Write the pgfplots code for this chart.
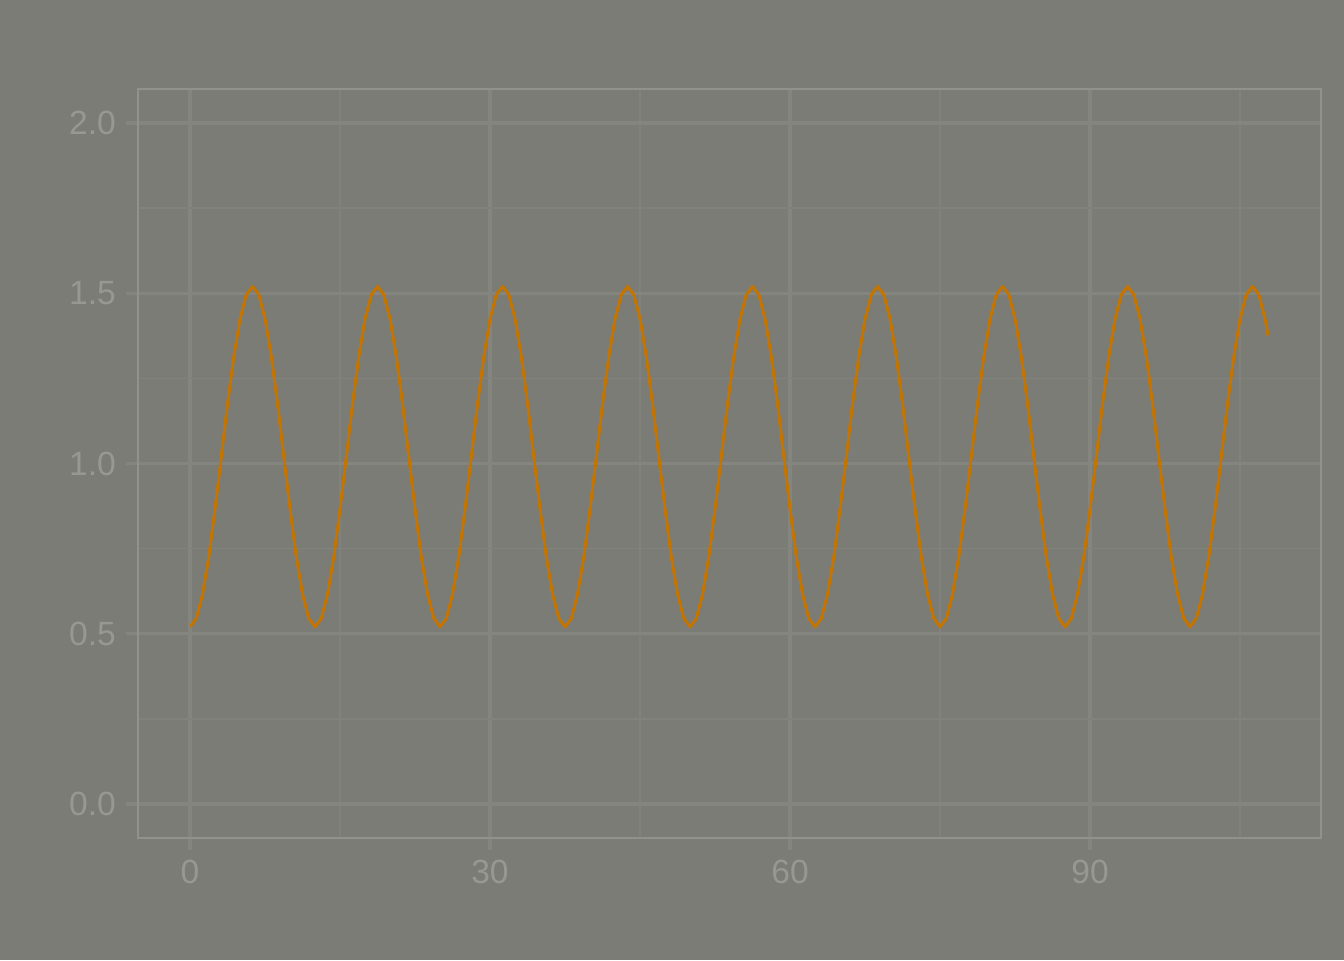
\documentclass[border=0pt]{standalone}
\usepackage{fontspec}
\setmainfont{Liberation Sans}
\usepackage{pgfplots}
\pgfplotsset{compat=1.18}
\definecolor{bgc}{RGB}{124,124,118}
\definecolor{gridmaj}{RGB}{133,133,128}
\definecolor{gridmin}{RGB}{130,130,125}
\definecolor{framec}{RGB}{146,146,141}
\definecolor{txtc}{RGB}{152,152,147}
\definecolor{wave}{RGB}{196,116,0}

\pgfplotstableread{
x y
0 0.520
0.625 0.545
1.25 0.616
1.875 0.726
2.5 0.866
3.125 1.020
3.75 1.175
4.375 1.314
5 1.425
5.625 1.496
6.25 1.520
6.875 1.496
7.5 1.425
8.125 1.314
8.75 1.175
9.375 1.020
10 0.866
10.625 0.726
11.25 0.616
11.875 0.545
12.5 0.520
13.125 0.545
13.75 0.616
14.375 0.726
15 0.866
15.625 1.020
16.25 1.175
16.875 1.314
17.5 1.425
18.125 1.496
18.75 1.520
19.375 1.496
20 1.425
20.625 1.314
21.25 1.175
21.875 1.020
22.5 0.866
23.125 0.726
23.75 0.616
24.375 0.545
25 0.520
25.625 0.545
26.25 0.616
26.875 0.726
27.5 0.866
28.125 1.020
28.75 1.175
29.375 1.314
30 1.425
30.625 1.496
31.25 1.520
31.875 1.496
32.5 1.425
33.125 1.314
33.75 1.175
34.375 1.020
35 0.866
35.625 0.726
36.25 0.616
36.875 0.545
37.5 0.520
38.125 0.545
38.75 0.616
39.375 0.726
40 0.866
40.625 1.020
41.25 1.175
41.875 1.314
42.5 1.425
43.125 1.496
43.75 1.520
44.375 1.496
45 1.425
45.625 1.314
46.25 1.175
46.875 1.020
47.5 0.866
48.125 0.726
48.75 0.616
49.375 0.545
50 0.520
50.625 0.545
51.25 0.616
51.875 0.726
52.5 0.866
53.125 1.020
53.75 1.175
54.375 1.314
55 1.425
55.625 1.496
56.25 1.520
56.875 1.496
57.5 1.425
58.125 1.314
58.75 1.175
59.375 1.020
60 0.866
60.625 0.726
61.25 0.616
61.875 0.545
62.5 0.520
63.125 0.545
63.75 0.616
64.375 0.726
65 0.866
65.625 1.020
66.25 1.175
66.875 1.314
67.5 1.425
68.125 1.496
68.75 1.520
69.375 1.496
70 1.425
70.625 1.314
71.25 1.175
71.875 1.020
72.5 0.866
73.125 0.726
73.75 0.616
74.375 0.545
75 0.520
75.625 0.545
76.25 0.616
76.875 0.726
77.5 0.866
78.125 1.020
78.75 1.175
79.375 1.314
80 1.425
80.625 1.496
81.25 1.520
81.875 1.496
82.5 1.425
83.125 1.314
83.75 1.175
84.375 1.020
85 0.866
85.625 0.726
86.25 0.616
86.875 0.545
87.5 0.520
88.125 0.545
88.75 0.616
89.375 0.726
90 0.866
90.625 1.020
91.25 1.175
91.875 1.314
92.5 1.425
93.125 1.496
93.75 1.520
94.375 1.496
95 1.425
95.625 1.314
96.25 1.175
96.875 1.020
97.5 0.866
98.125 0.726
98.75 0.616
99.375 0.545
100 0.520
100.625 0.545
101.25 0.616
101.875 0.726
102.5 0.866
103.125 1.020
103.75 1.175
104.375 1.314
105 1.425
105.625 1.496
106.25 1.520
106.875 1.496
107.5 1.425
107.8 1.376
}\wavedata

\begin{document}
\begin{tikzpicture}
% whole picture 1344 x 960 px at 0.5pt per px
\fill[bgc] (0,0) rectangle (672pt,480pt);
\begin{axis}[
  at={(69pt,61pt)}, anchor=south west,
  scale only axis, width=591.5pt, height=374.5pt,
  xmin=-5.2, xmax=113.1, ymin=-0.1, ymax=2.1,
  xtick={0,30,60,90}, minor xtick={15,45,75,105},
  ytick={0,0.5,1,1.5,2}, minor ytick={0.25,0.75,1.25,1.75},
  yticklabel style={xshift=-1.5pt,
    /pgf/number format/fixed,
    /pgf/number format/fixed zerofill,
    /pgf/number format/precision=1},
  xticklabel style={yshift=-1.5pt},
  /pgf/number format/assume math mode=true,
  tick label style={font=\fontsize{16.8}{19}\selectfont, text=txtc},
  axis x line*=bottom, axis y line*=left,
  separate axis lines,
  axis line style={draw=none},
  tick align=outside, major tick length=6pt, minor tick length=0pt,
  major tick style={draw=gridmaj, line width=1.6pt},
  grid=both,
  major grid style={draw=gridmaj, line width=1.6pt},
  minor grid style={draw=gridmin, line width=0.8pt},
  axis background/.style={fill=bgc},
  clip=false,
]
\addplot[wave, line width=1.5pt, line join=round] table[x=x,y=y] {\wavedata};
\draw[framec, line width=1pt] (rel axis cs:0,0) rectangle (rel axis cs:1,1);
\end{axis}
\end{tikzpicture}
\end{document}
